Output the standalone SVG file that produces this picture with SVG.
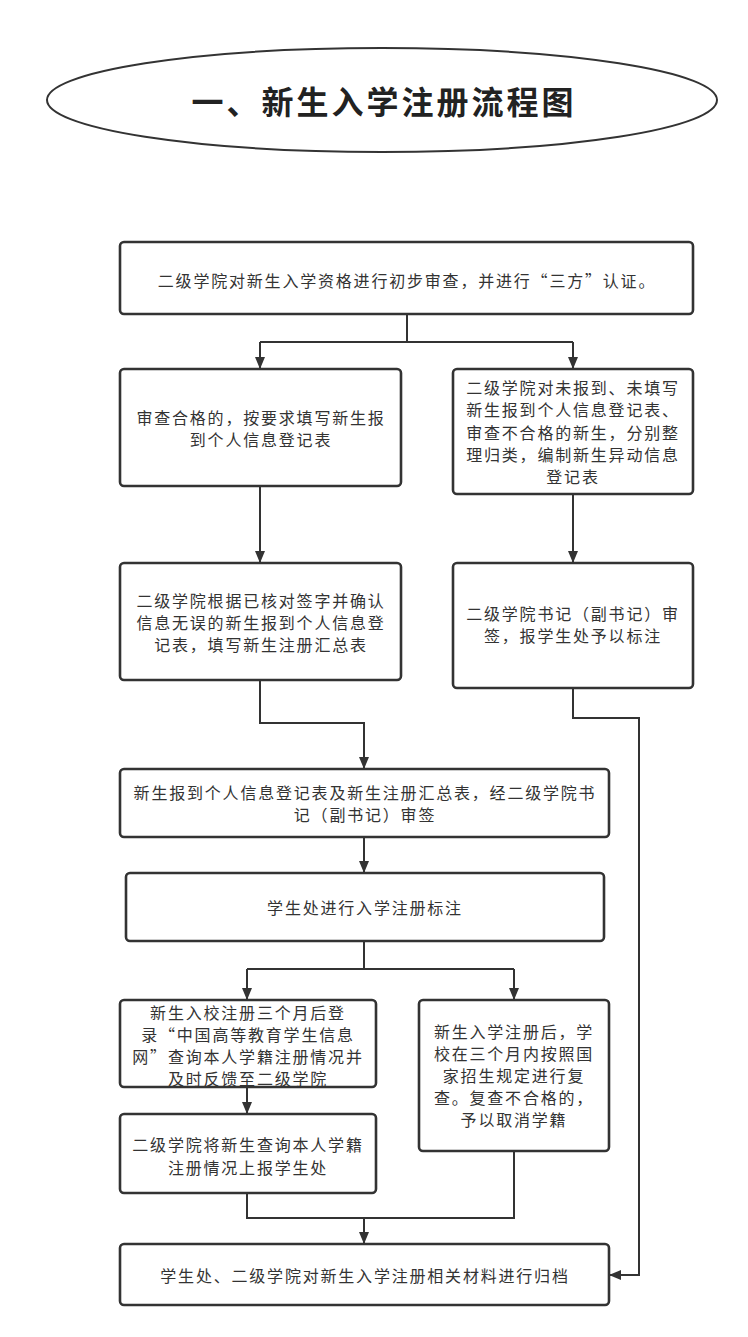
<svg xmlns="http://www.w3.org/2000/svg" width="748" height="1337" viewBox="0 0 748 1337">
<defs>
<style>
.box{fill:#fff;stroke:#333;stroke-width:2.6}
.t{font-family:"Noto Sans CJK SC","Noto Sans",sans-serif;font-size:16px;letter-spacing:1.8px;fill:#333;text-anchor:middle;dominant-baseline:central}
.ttl{font-family:"Noto Sans CJK SC","Noto Sans",sans-serif;font-size:32px;font-weight:bold;letter-spacing:3px;fill:#222;text-anchor:middle;dominant-baseline:central}
.c{fill:none;stroke:#333;stroke-width:2}
</style>
<marker id="ah" markerUnits="userSpaceOnUse" markerWidth="12" markerHeight="12" viewBox="0 0 12 12" refX="12" refY="6" orient="auto">
<path d="M0,1 L12,6 L0,11 Z" fill="#333"/>
</marker>
</defs>
<rect width="748" height="1337" fill="#fff"/>
<g id="title">
<ellipse cx="382" cy="100" rx="335" ry="52" fill="#fff" stroke="#333" stroke-width="2"/>
<text class="ttl" x="384" y="100">一、新生入学注册流程图</text>
</g>
<g id="connectors">
<path class="c" d="M407,314 V342 M260,342 H573"/>
<path class="c" d="M260,342 V369" marker-end="url(#ah)"/>
<path class="c" d="M573,342 V369" marker-end="url(#ah)"/>
<path class="c" d="M260,486 V563" marker-end="url(#ah)"/>
<path class="c" d="M573,494 V563" marker-end="url(#ah)"/>
<path class="c" d="M260,680 V723 H364 V769" marker-end="url(#ah)"/>
<path class="c" d="M573,688 V718 H639 V1275 H609" marker-end="url(#ah)"/>
<path class="c" d="M364,837 V873" marker-end="url(#ah)"/>
<path class="c" d="M364,941 V969 M247,969 H514"/>
<path class="c" d="M247,969 V1000" marker-end="url(#ah)"/>
<path class="c" d="M514,969 V1000" marker-end="url(#ah)"/>
<path class="c" d="M247,1087 V1114" marker-end="url(#ah)"/>
<path class="c" d="M247,1193 V1218 H514 V1151"/>
<path class="c" d="M364,1218 V1244" marker-end="url(#ah)"/>
</g>
<g id="n1">
<rect class="box" x="120" y="242" width="573" height="72" rx="4"/>
<text class="t" x="407" y="280">二级学院对新生入学资格进行初步审查，并进行“三方”认证。</text>
</g>
<g id="n2L">
<rect class="box" x="120" y="369" width="281" height="117" rx="4"/>
<text class="t" x="261" y="417">审查合格的，按要求填写新生报</text>
<text class="t" x="261" y="439">到个人信息登记表</text>
</g>
<g id="n2R">
<rect class="box" x="453" y="369" width="240" height="125" rx="4"/>
<text class="t" x="573" y="387">二级学院对未报到、未填写</text>
<text class="t" x="573" y="409">新生报到个人信息登记表、</text>
<text class="t" x="573" y="432">审查不合格的新生，分别整</text>
<text class="t" x="573" y="454">理归类，编制新生异动信息</text>
<text class="t" x="573" y="476">登记表</text>
</g>
<g id="n3L">
<rect class="box" x="120" y="563" width="281" height="117" rx="4"/>
<text class="t" x="261" y="600">二级学院根据已核对签字并确认</text>
<text class="t" x="261" y="622">信息无误的新生报到个人信息登</text>
<text class="t" x="261" y="644">记表，填写新生注册汇总表</text>
</g>
<g id="n3R">
<rect class="box" x="453" y="563" width="240" height="125" rx="4"/>
<text class="t" x="573" y="613">二级学院书记（副书记）审</text>
<text class="t" x="573" y="635">签，报学生处予以标注</text>
</g>
<g id="n4">
<rect class="box" x="120" y="769" width="489" height="68" rx="4"/>
<text class="t" x="365" y="792">新生报到个人信息登记表及新生注册汇总表，经二级学院书</text>
<text class="t" x="365" y="814">记（副书记）审签</text>
</g>
<g id="n5">
<rect class="box" x="126" y="873" width="478" height="68" rx="4"/>
<text class="t" x="365" y="907">学生处进行入学注册标注</text>
</g>
<g id="n6L">
<rect class="box" x="120" y="1000" width="256" height="87" rx="4"/>
<text class="t" x="248" y="1012">新生入校注册三个月后登</text>
<text class="t" x="248" y="1034">录“中国高等教育学生信息</text>
<text class="t" x="248" y="1056">网”查询本人学籍注册情况并</text>
<text class="t" x="248" y="1078">及时反馈至二级学院</text>
</g>
<g id="n6R">
<rect class="box" x="419" y="1000" width="190" height="151" rx="4"/>
<text class="t" x="514" y="1031">新生入学注册后，学</text>
<text class="t" x="514" y="1053">校在三个月内按照国</text>
<text class="t" x="514" y="1075">家招生规定进行复</text>
<text class="t" x="514" y="1097">查。复查不合格的，</text>
<text class="t" x="514" y="1119">予以取消学籍</text>
</g>
<g id="n7L">
<rect class="box" x="120" y="1114" width="256" height="79" rx="4"/>
<text class="t" x="248" y="1144">二级学院将新生查询本人学籍</text>
<text class="t" x="248" y="1167">注册情况上报学生处</text>
</g>
<g id="n8">
<rect class="box" x="120" y="1244" width="489" height="61" rx="4"/>
<text class="t" x="365" y="1275">学生处、二级学院对新生入学注册相关材料进行归档</text>
</g>
</svg>
